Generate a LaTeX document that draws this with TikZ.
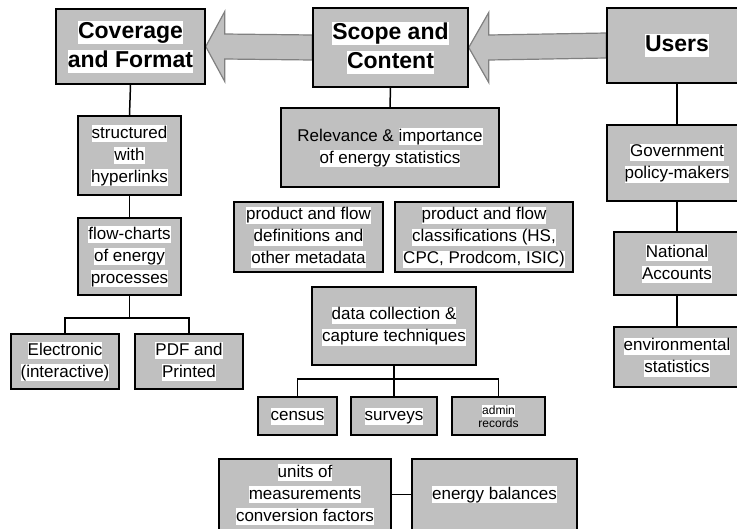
\documentclass[tikz,border=0pt]{standalone}
\usepackage{fontspec}
\setmainfont{Liberation Sans}
\usetikzlibrary{backgrounds}
\definecolor{boxgray}{HTML}{C0C0C0}
\definecolor{arrowedge}{HTML}{808080}
\newcommand\hl[1]{{\setlength{\fboxsep}{0pt}\colorbox{white}{\rule[-0.22em]{0pt}{1.0em}#1}}}
\begin{document}
\begin{tikzpicture}[x=1pt,y=-1pt,
  box/.style={draw=black, line width=1.5pt, fill=boxgray, inner sep=0pt, align=center,
              font=\fontsize{17}{22}\selectfont},
  titlebox/.style={box, font=\fontsize{23}{29}\bfseries\selectfont},
  link/.style={draw=black, line width=1.5pt},
  bigarrow/.style={draw=arrowedge, fill=boxgray, line width=1.2pt, line join=miter}]
\useasboundingbox (0,0) rectangle (737,528);
\clip (0,0) rectangle (737,528);

% top row
\node[titlebox, minimum width=149, minimum height=75] (cov) at (130.5,46.5) {\hl{Coverage}\\\hl{and Format}};
\node[titlebox, minimum width=155, minimum height=79] (scope) at (390.5,47.5) {\hl{Scope and}\\\hl{Content}};
\node[titlebox, minimum width=140, minimum height=75] (users) at (677,45.5) {\hl{Users}};

% left column
\node[box, minimum width=103, minimum height=79] (struct) at (129.5,155.5) {\hl{structured}\\\hl{with}\\\hl{hyperlinks}};
\node[box, minimum width=103, minimum height=77] (flow) at (129.5,256.5) {\hl{flow-charts}\\\hl{of energy}\\\hl{processes}};
\node[box, minimum width=108, minimum height=55] (elec) at (65,361.5) {\hl{Electronic}\\\hl{(interactive)}};
\node[box, minimum width=108, minimum height=55] (pdf) at (189,361.5) {\hl{PDF and}\\\hl{Printed}};

% middle column
\node[box, minimum width=218, minimum height=79] (rel) at (390,147.5) {Relevance \&~\hl{importance}\\\hl{of energy statistics}};
\node[box, minimum width=149, minimum height=70] (pdef) at (308.5,237) {\hl{product and flow}\\\hl{definitions and}\\\hl{other metadata}};
\node[box, minimum width=178, minimum height=70] (pclass) at (484,237) {\hl{product and flow}\\\hl{classifications (HS,}\\\hl{CPC, Prodcom, ISIC)}};
\node[box, minimum width=164, minimum height=78] (data) at (394,326) {\hl{data collection \&}\\\hl{capture techniques}};
\node[box, minimum width=79, minimum height=38] (census) at (297.5,416) {\hl{census}};
\node[box, minimum width=86, minimum height=38] (surveys) at (394,416) {\hl{surveys}};
\node[box, minimum width=93, minimum height=38, font=\fontsize{12}{13}\selectfont] (admin) at (498.5,416) {\hl{admin}\\records};
\node[box, minimum width=172, minimum height=71] (units) at (305,494.5) {\hl{units of}\\\hl{measurements}\\\hl{conversion factors}};
\node[box, minimum width=165, minimum height=71] (energy) at (494.5,494.5) {\hl{energy balances}};

% right column
\node[box, minimum width=140, minimum height=76] (gov) at (677,163) {\hl{Government}\\\hl{policy-makers}};
\node[box, minimum width=126, minimum height=63] (natl) at (677,263.5) {\hl{National}\\\hl{Accounts}};
\node[box, minimum width=126, minimum height=60] (env) at (677,357) {\hl{environmental}\\\hl{statistics}};

% junctions
\coordinate (j1) at (129.5,318);
\coordinate (j2) at (394,379);

% connectors
\draw[link] (cov.south) -- (struct.north);
\draw[link] (struct.south) -- (flow.north);
\draw[link] (flow.south) -- (j1);
\draw[link] (elec.north) |- (j1) -| (pdf.north);
\draw[link] (scope.south) -- (rel.north);
\draw[link] (data.south) -- (surveys.north);
\draw[link] (census.north) |- (j2) -| (admin.north);
\draw[link] (units.east) -- (energy.west);
\draw[link] (users.south) -- (gov.north);
\draw[link] (gov.south) -- (natl.north);
\draw[link] (natl.south) -- (env.north);

% big block arrows
\begin{pgfonlayer}{background}
\draw[bigarrow] (cov.east) -- ([shift={(19,-35)}]cov.east) -- ([shift={(19,-12.5)}]cov.east)
  -- ([shift={(0,-12.5)}]scope.west) -- ([shift={(0,12.5)}]scope.west)
  -- ([shift={(19,12.5)}]cov.east) -- ([shift={(19,35)}]cov.east) -- cycle;
\draw[bigarrow] (scope.east) -- ([shift={(20,-35)}]scope.east) -- ([shift={(20,-12.5)}]scope.east)
  -- ([shift={(0,-12.5)}]users.west) -- ([shift={(0,12.5)}]users.west)
  -- ([shift={(20,12.5)}]scope.east) -- ([shift={(20,35)}]scope.east) -- cycle;
\end{pgfonlayer}
\end{tikzpicture}
\end{document}
